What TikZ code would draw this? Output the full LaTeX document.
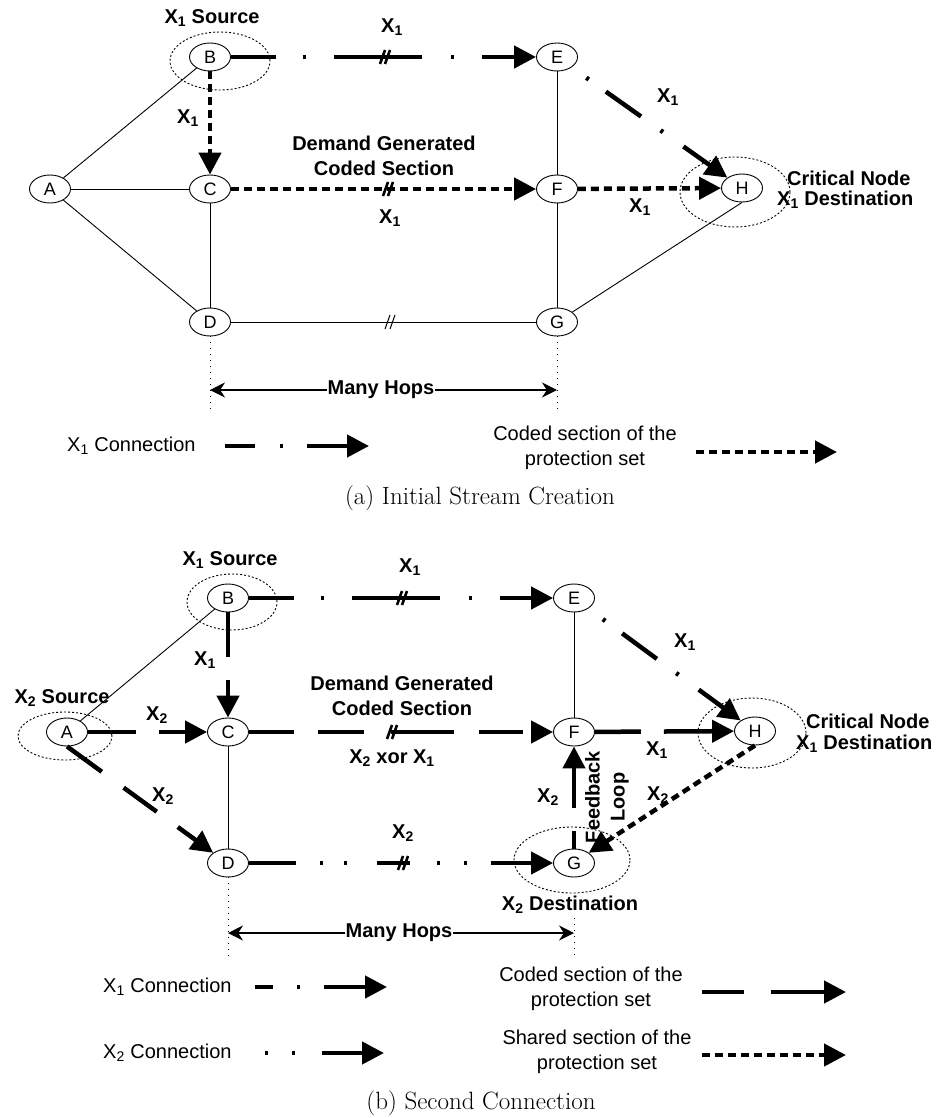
\documentclass[tikz,border=0pt]{standalone}
\usepackage{fontspec}
\newfontfamily\arial{Liberation Sans}
\usetikzlibrary{shapes.geometric,arrows.meta}

\tikzset{
  nd/.style={ellipse,draw,line width=0.9pt,minimum width=41pt,minimum height=28pt,inner sep=0pt,font=\arial\fontsize{18}{18}\selectfont},
  lbl/.style={font=\arial\bfseries\fontsize{20}{25}\selectfont,inner sep=1pt,align=center},
  leg/.style={font=\arial\fontsize{20}{25}\selectfont,inner sep=1pt,align=center},
  link/.style={line width=0.9pt},
  ring/.style={line width=0.9pt,dash pattern=on 2pt off 2pt},
  big/.style={line width=4.5pt,-{Triangle[length=22pt,width=22pt]}},
  conn/.style={big,dash pattern=#1},
  xone/.style={conn={on 45pt off 27pt on 3pt off 28pt on 88pt off 29pt on 3pt off 28pt on 200pt}},
  xdiag/.style={conn={on 0pt off 18pt on 3pt off 21pt on 43pt off 24pt on 3pt off 25pt on 200pt}},
  dotarr/.style={big,dash pattern=on 8pt off 5pt},
  hop/.style={line width=1.8pt,{Stealth[length=15pt,width=15pt]}-{Stealth[length=15pt,width=15pt]}},
  guide/.style={line width=0.9pt,dash pattern=on 1pt off 5pt},
  brk/.pic={\draw (-5pt,-7pt) -- (0pt,7pt) (0pt,-7pt) -- (5pt,7pt);}
}

\begin{document}
\begin{tikzpicture}[x=1pt,y=-1pt]
\useasboundingbox (0,0) rectangle (940,1118);
%(a) nodes
\node[nd] (A1) at (50,189) {A};
\node[nd] (B1) at (210,57) {B};
\node[nd] (C1) at (210,189) {C};
\node[nd] (D1) at (210,322) {D};
\node[nd] (E1) at (557,57) {E};
\node[nd] (F1) at (557,189) {F};
\node[nd] (G1) at (557,322) {G};
\node[nd] (H1) at (742,188) {H};
\draw[ring] (220,61) ellipse [x radius=50pt,y radius=29pt];
\draw[ring] (735,192) ellipse [x radius=55pt,y radius=35pt];
%links
\draw[link] (A1) -- (B1);
\draw[link] (A1) -- (C1);
\draw[link] (A1) -- (D1);
\draw[link] (C1) -- (D1);
\draw[link] (E1) -- (F1);
\draw[link] (F1) -- (G1);
\draw[link] (D1) -- (G1);
\draw[link] (G1) -- (H1.south);
\pic[line width=1pt] at (390,322) {brk};
%connections
\draw[xone] (B1) -- (E1);
\draw[xdiag] (E1) -- (H1);
\draw[dotarr] (B1) -- (C1);
\draw[dotarr] (C1) -- (F1);
\draw[dotarr] (F1) -- (H1);
\pic[line width=2.6pt] at (385,57) {brk};
\pic[line width=2.6pt] at (388,189) {brk};
%labels
\node[lbl] (srcB1) at (212,18) {X\textsubscript{1} Source};
\node[lbl] (xbe1) at (392,27) {X\textsubscript{1}};
\node[lbl] (xbc1) at (188,118) {X\textsubscript{1}};
\node[lbl] (dem1) at (384,156) {Demand Generated\\Coded Section};
\node[lbl] (xcf1) at (390,218) {X\textsubscript{1}};
\node[lbl] (xfh1) at (640,207) {X\textsubscript{1}};
\node[lbl] (xeh1) at (668,97) {X\textsubscript{1}};
\node[lbl,anchor=west] (crit1) at (786,178) {Critical Node};
\node[lbl,anchor=west] (dest1) at (776,200) {X\textsubscript{1} Destination};
%hops
\coordinate (gd1) at (210,413);
\coordinate (gg1) at (557,413);
\draw[guide] (D1) -- (gd1);
\draw[guide] (G1) -- (gg1);
\coordinate (hl1) at (210,390);
\coordinate (hr1) at (557,390);
\draw[hop] (hl1) -- (hr1);
\node[lbl,fill=white] (hops1) at (381,390) {Many Hops};
%legend
\node[leg,anchor=west] (lx1) at (66,446) {X\textsubscript{1} Connection};
\coordinate (lxa1) at (225,446);
\coordinate (lxb1) at (369,446);
\draw[conn={on 30pt off 25pt on 3pt off 24pt on 200pt}] (lxa1) -- (lxb1);
\node[leg] (lc1) at (585,448) {Coded section of the\\protection set};
\coordinate (lca1) at (696,452);
\coordinate (lcb1) at (837,452);
\draw[dotarr] (lca1) -- (lcb1);
\node[font=\fontsize{25}{30}\selectfont] (cap1) at (480,498) {(a) Initial Stream Creation};

%(b) nodes
\node[nd] (A2) at (67,732) {A};
\node[nd] (B2) at (228,598) {B};
\node[nd] (C2) at (228,732) {C};
\node[nd] (D2) at (228,863) {D};
\node[nd] (E2) at (574,598) {E};
\node[nd] (F2) at (574,732) {F};
\node[nd] (G2) at (574,863) {G};
\node[nd] (H2) at (755,731) {H};
\draw[ring] (232,602) ellipse [x radius=45pt,y radius=28pt];
\draw[ring] (65,736) ellipse [x radius=47pt,y radius=24pt];
\draw[ring] (752,733) ellipse [x radius=54pt,y radius=35pt];
\draw[ring] (572,860) ellipse [x radius=58pt,y radius=33pt];
%links
\draw[link] (A2) -- (B2);
\draw[link] (C2) -- (D2);
\draw[link] (E2) -- (F2);
%connections
\draw[xone] (B2) -- (E2);
\draw[xdiag] (E2) -- (H2);
\draw[conn={on 45pt off 23pt on 200pt}] (B2) -- (C2);
\draw[conn={on 48pt off 23pt on 200pt}] (A2) -- (C2);
\draw[conn={on 43pt off 27pt on 41pt off 26pt on 200pt}] (A2.south) -- (D2.north west);
\draw[conn={on 45pt off 24pt on 46pt off 27pt on 63pt off 25pt on 44pt off 8pt on 200pt}] (C2) -- (F2);
\draw[conn={on 46pt off 23pt on 200pt}] (F2) -- (H2);
\draw[conn={on 47pt off 24pt on 3pt off 21pt on 3pt off 30pt on 33pt off 27pt on 3pt off 24pt on 3pt off 24pt on 200pt}] (D2) -- (G2);
\draw[conn={on 18pt off 23pt on 200pt}] (G2) -- (F2);
\draw[dotarr] (H2.south) -- (G2.north east);
\pic[line width=2.6pt] at (402,598) {brk};
\pic[line width=2.6pt] at (392,732) {brk};
\pic[line width=2.6pt] at (403,863) {brk};
%labels
\node[lbl] (srcB2) at (230,560) {X\textsubscript{1} Source};
\node[lbl] (srcA2) at (62,698) {X\textsubscript{2} Source};
\node[lbl] (xbe2) at (410,567) {X\textsubscript{1}};
\node[lbl] (xbc2) at (205,660) {X\textsubscript{1}};
\node[lbl] (xac2) at (157,715) {X\textsubscript{2}};
\node[lbl] (xad2) at (163,796) {X\textsubscript{2}};
\node[lbl] (dem2) at (402,696) {Demand Generated\\Coded Section};
\node[lbl] (xor2) at (392,758) {X\textsubscript{2} xor X\textsubscript{1}};
\node[lbl] (xdg2) at (403,833) {X\textsubscript{2}};
\node[lbl] (xgf2) at (548,797) {X\textsubscript{2}};
\node[lbl,rotate=90] (loop2) at (607,797) {Feedback\\Loop};
\node[lbl] (xfh2) at (657,750) {X\textsubscript{1}};
\node[lbl] (xhg2) at (658,795) {X\textsubscript{2}};
\node[lbl] (xeh2) at (685,642) {X\textsubscript{1}};
\node[lbl,anchor=west] (crit2) at (805,721) {Critical Node};
\node[lbl,anchor=west] (dest2) at (795,744) {X\textsubscript{1} Destination};
\node[lbl] (dstG2) at (570,905) {X\textsubscript{2} Destination};
%hops
\coordinate (gd2) at (228,957);
\coordinate (gt2) at (574,918);
\coordinate (gg2) at (574,957);
\draw[guide] (D2) -- (gd2);
\draw[guide] (gt2) -- (gg2);
\coordinate (hl2) at (228,933);
\coordinate (hr2) at (574,933);
\draw[hop] (hl2) -- (hr2);
\node[lbl,fill=white] (hops2) at (399,933) {Many Hops};
%legend
\node[leg,anchor=west] (lx2) at (102,987) {X\textsubscript{1} Connection};
\coordinate (lxa2) at (255,987);
\coordinate (lxb2) at (387,987);
\draw[conn={on 18pt off 24pt on 3pt off 24pt on 200pt}] (lxa2) -- (lxb2);
\node[leg] (lc2) at (591,989) {Coded section of the\\protection set};
\coordinate (lca2) at (702,992);
\coordinate (lcb2) at (846,992);
\draw[conn={on 42pt off 27pt on 200pt}] (lca2) -- (lcb2);
\node[leg,anchor=west] (ly2) at (102,1053) {X\textsubscript{2} Connection};
\coordinate (lya2) at (265,1053);
\coordinate (lyb2) at (384,1053);
\draw[conn={on 3pt off 24pt on 3pt off 27pt on 200pt}] (lya2) -- (lyb2);
\node[leg] (ls2) at (597,1052) {Shared section of the\\protection set};
\coordinate (lsa2) at (702,1055);
\coordinate (lsb2) at (846,1055);
\draw[dotarr] (lsa2) -- (lsb2);
\node[font=\fontsize{25}{30}\selectfont] (cap2) at (481,1103) {(b) Second Connection};
\end{tikzpicture}
\end{document}
